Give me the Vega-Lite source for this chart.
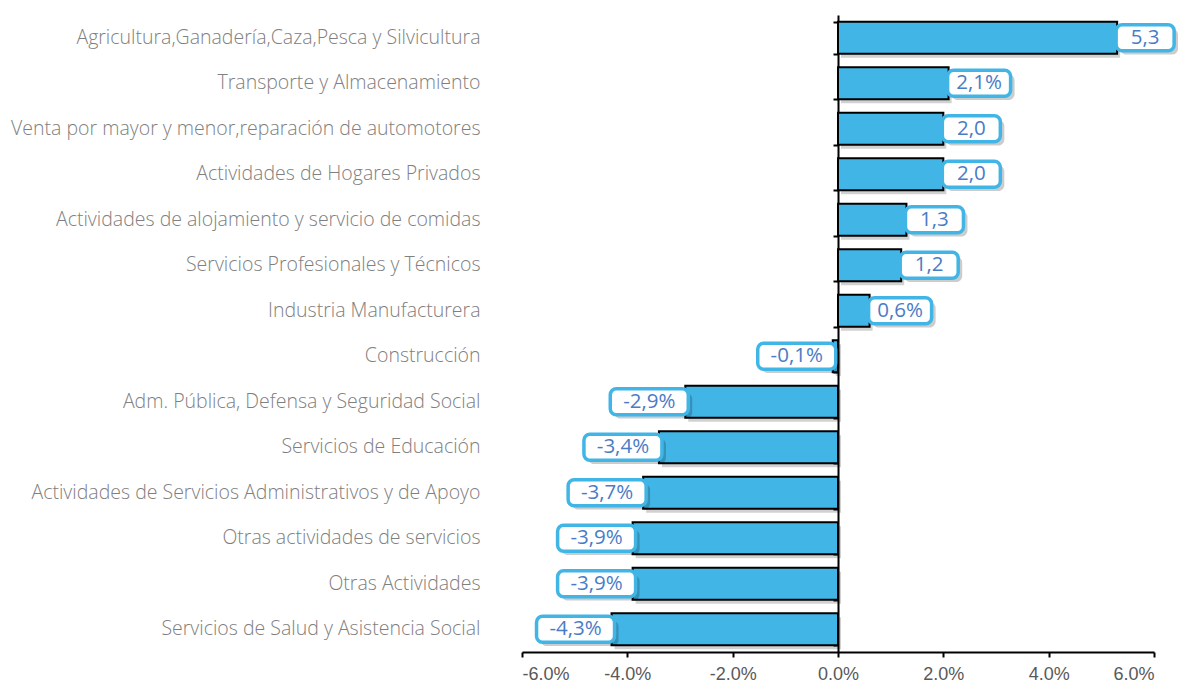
{
  "$schema": "https://vega.github.io/schema/vega-lite/v6.json",
  "autosize": "none",
  "width": 632,
  "height": 637,
  "padding": {"left": 522, "top": 15, "right": 24, "bottom": 31},
  "background": "white",
  "config": {"view": {"stroke": null}},
  "data": {
    "values": [
      {"cat": "Agricultura,Ganadería,Caza,Pesca y Silvicultura", "value": 5.3, "label": "5,3"},
      {"cat": "Transporte y Almacenamiento", "value": 2.1, "label": "2,1%"},
      {"cat": "Venta por mayor y menor,reparación de automotores", "value": 2.0, "label": "2,0"},
      {"cat": "Actividades de Hogares Privados", "value": 2.0, "label": "2,0"},
      {"cat": "Actividades de alojamiento y servicio de comidas", "value": 1.3, "label": "1,3"},
      {"cat": "Servicios Profesionales y Técnicos", "value": 1.2, "label": "1,2"},
      {"cat": "Industria Manufacturera", "value": 0.6, "label": "0,6%"},
      {"cat": "Construcción", "value": -0.1, "label": "-0,1%"},
      {"cat": "Adm. Pública, Defensa y Seguridad Social", "value": -2.9, "label": "-2,9%"},
      {"cat": "Servicios de Educación", "value": -3.4, "label": "-3,4%"},
      {"cat": "Actividades de Servicios Administrativos y de Apoyo", "value": -3.7, "label": "-3,7%"},
      {"cat": "Otras actividades de servicios", "value": -3.9, "label": "-3,9%"},
      {"cat": "Otras Actividades", "value": -3.9, "label": "-3,9%"},
      {"cat": "Servicios de Salud y Asistencia Social", "value": -4.3, "label": "-4,3%"}
    ]
  },
  "layer": [
    {
      "mark": {"type": "bar", "fill": "#000000", "opacity": 0.18, "xOffset": 3, "yOffset": 4, "x2Offset": 3},
      "encoding": {
        "x": {"field": "value", "type": "quantitative", "scale": {"domain": [-6, 6]},
          "axis": {"title": null, "values": [-6, -4, -2, 0, 2, 4, 6], "grid": false, "domainColor": "#000000", "domainWidth": 2, "tickColor": "#000000", "tickWidth": 2, "tickSize": 5, "labelFont": "Liberation Sans", "labelFontSize": 18, "labelColor": "#595959", "labelPadding": 8,
            "labelExpr": "(datum.value < 0 ? '-' : '') + format(abs(datum.value), '.1f') + '%'"}},
        "x2": {"datum": 0},
        "y": {"field": "cat", "type": "nominal", "sort": null,
          "scale": {"paddingInner": 0.3, "paddingOuter": 0.15},
          "axis": {"orient": "left", "title": null, "ticks": false, "tickSize": 0, "domain": false, "labelPadding": 42, "labelFont": "Open Sans", "labelFontWeight": 300, "labelFontSize": 19.5, "labelColor": "#808080", "labelLimit": 600}}
      }
    },
    {
      "mark": {"type": "bar", "fill": "#41B6E6", "stroke": "#000000", "strokeWidth": 2},
      "encoding": {
        "x": {"field": "value", "type": "quantitative"},
        "x2": {"datum": 0},
        "y": {"field": "cat", "type": "nominal", "sort": null,
          "axis": {"orient": "left", "title": null, "labels": false, "ticks": true, "tickBand": "extent", "tickSize": 5, "tickWidth": 2, "tickColor": "#000000", "domain": true, "domainColor": "#000000", "domainWidth": 2, "offset": -316}}
      }
    },
    {
      "mark": {"type": "rect", "fill": "#000000", "opacity": 0.2, "cornerRadius": 6, "height": {"band": 0.8}, "yOffset": 4,
        "xOffset": {"expr": "(datum.value >= 0 ? -1 : -((length(datum.label) <= 3 ? 58 : length(datum.label) == 4 ? 63 : 78) - 3)) + 4"},
        "x2Offset": {"expr": "(datum.value >= 0 ? (length(datum.label) <= 3 ? 58 : length(datum.label) == 4 ? 63 : 78) - 1 : 3) + 4"}},
      "encoding": {
        "x": {"field": "value", "type": "quantitative"},
        "x2": {"field": "value"},
        "y": {"field": "cat", "type": "nominal", "sort": null, "axis": null}
      }
    },
    {
      "mark": {"type": "rect", "fill": "#FFFFFF", "stroke": "#41B6E6", "strokeWidth": 3.5, "cornerRadius": 6, "height": {"band": 0.82},
        "xOffset": {"expr": "datum.value >= 0 ? -1 : -((length(datum.label) <= 3 ? 58 : length(datum.label) == 4 ? 63 : 78) - 3)"},
        "x2Offset": {"expr": "datum.value >= 0 ? (length(datum.label) <= 3 ? 58 : length(datum.label) == 4 ? 63 : 78) - 1 : 3"}},
      "encoding": {
        "x": {"field": "value", "type": "quantitative"},
        "x2": {"field": "value"},
        "y": {"field": "cat", "type": "nominal", "sort": null, "axis": null}
      }
    },
    {
      "mark": {"type": "text", "font": "Open Sans", "fontSize": 20.5, "color": "#4A7CC6", "align": "center", "baseline": "middle",
        "dx": {"expr": "datum.value >= 0 ? (length(datum.label) <= 3 ? 58 : length(datum.label) == 4 ? 63 : 78) / 2 - 1 : -((length(datum.label) <= 3 ? 58 : length(datum.label) == 4 ? 63 : 78) / 2 - 3)"}},
      "encoding": {
        "x": {"field": "value", "type": "quantitative"},
        "y": {"field": "cat", "type": "nominal", "sort": null, "axis": null},
        "text": {"field": "label"}
      }
    }
  ],
  "resolve": {"axis": {"y": "independent"}}
}
